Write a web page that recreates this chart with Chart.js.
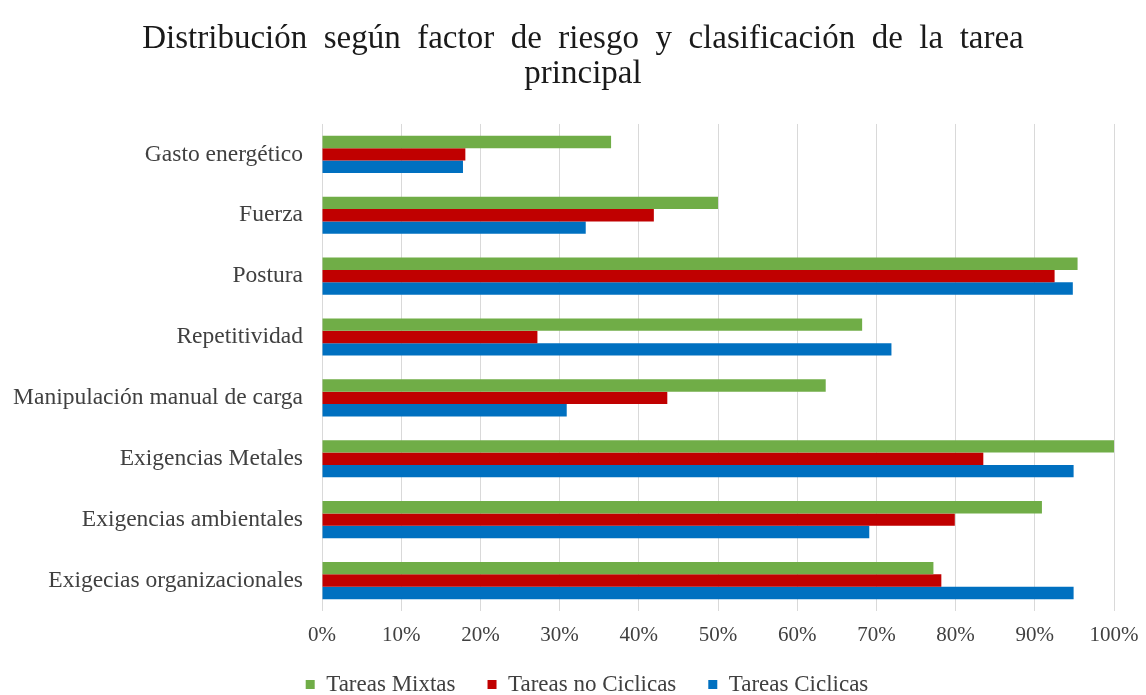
<!DOCTYPE html>
<html>
<head>
<meta charset="utf-8">
<script src="https://cdn.jsdelivr.net/npm/chart.js@4"></script>
<style>
  html, body { margin: 0; padding: 0; background: #fff; }
  #wrap { width: 1146px; height: 695px; }
</style>
</head>
<body>
<div id="wrap"><canvas id="chart" width="1146" height="695"></canvas></div>
<script>
// factores de riesgo (de arriba a abajo)
const categorias = [
  'Gasto energético',
  'Fuerza',
  'Postura',
  'Repetitividad',
  'Manipulación manual de carga',
  'Exigencias Metales',
  'Exigencias ambientales',
  'Exigecias organizacionales'
];

// porcentajes
const tareasMixtas = [36.5, 50.0, 95.4, 68.2, 63.6, 100, 90.9, 77.2];
const tareasNoCiclicas = [18.1, 41.9, 92.5, 27.2, 43.6, 83.5, 79.9, 78.2];
const tareasCiclicas = [17.8, 33.3, 94.8, 71.9, 30.9, 94.9, 69.1, 94.9];

const ticksX = [0, 10, 20, 30, 40, 50, 60, 70, 80, 90, 100];

const serif = '"Liberation Serif", "Times New Roman", serif';
const gris = '#404040';

// corre titulo y leyenda un poco a la derecha, como en el original
const correrCajas = {
  id: 'correrCajas',
  afterLayout(chart) {
    chart.titleBlock.left += 26;
    chart.titleBlock.right += 26;
    chart.legend.left += 30;
    chart.legend.right += 30;
  }
};

const ctx = document.getElementById('chart').getContext('2d');

new Chart(ctx, {
  type: 'bar',
  data: {
    labels: categorias,
    datasets: [
      { label: 'Tareas Mixtas', data: tareasMixtas, backgroundColor: '#70ad47' },
      { label: 'Tareas no Ciclicas', data: tareasNoCiclicas, backgroundColor: '#c00000' },
      { label: 'Tareas Ciclicas', data: tareasCiclicas, backgroundColor: '#0070c0' }
    ]
  },
  plugins: [correrCajas],
  options: {
    indexAxis: 'y',
    responsive: false,
    animation: false,
    devicePixelRatio: 1,
    categoryPercentage: 0.61,
    barPercentage: 1,
    layout: { padding: { left: 0, right: 32, top: 0, bottom: -11 } },
    plugins: {
      title: {
        display: true,
        text: ['Distribución  según  factor  de  riesgo  y  clasificación  de  la  tarea', 'principal'],
        font: { family: serif, size: 33, weight: 'normal', lineHeight: 1.06 },
        color: '#1a1a1a',
        padding: { top: 22, bottom: 32 }
      },
      legend: {
        position: 'bottom',
        labels: {
          font: { family: serif, size: 23 },
          color: gris,
          boxWidth: 9,
          boxHeight: 9,
          padding: 32
        }
      },
      tooltip: { enabled: false }
    },
    scales: {
      x: {
        min: 0,
        max: 100,
        afterBuildTicks: (axis) => { axis.ticks = ticksX.map(v => ({ value: v })); },
        afterFit: (scale) => {
          scale.height = 30;
          scale.paddingLeft = 0;
          scale.paddingRight = 0;
        },
        ticks: {
          callback: (v) => v + '%',
          font: { family: serif, size: 21 },
          color: gris,
          padding: 12
        },
        grid: { color: '#d9d9d9', drawTicks: false },
        border: { display: false }
      },
      y: {
        afterFit: (scale) => { scale.width = 322; },
        ticks: {
          font: { family: serif, size: 23.5 },
          color: gris,
          padding: 11
        },
        grid: { display: false },
        border: { display: false }
      }
    }
  }
});
</script>
</body>
</html>
